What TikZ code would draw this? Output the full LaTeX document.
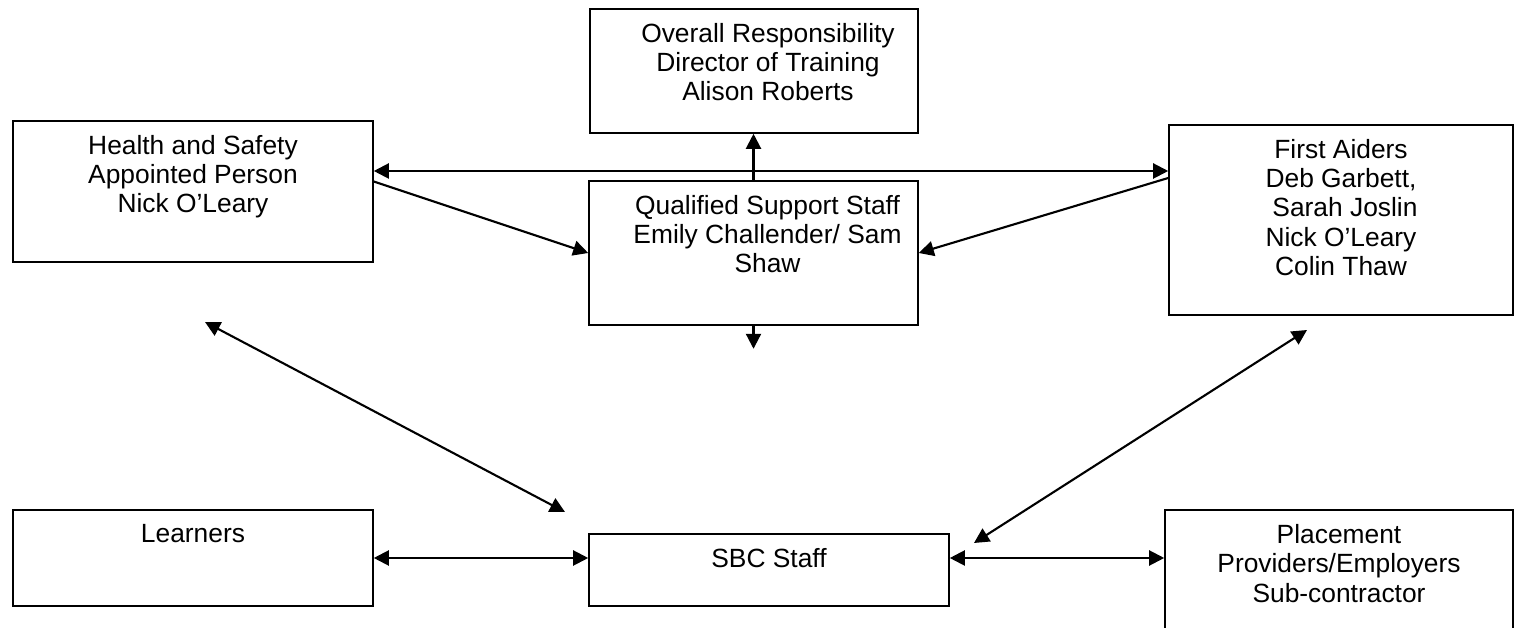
\documentclass[tikz,border=0pt]{standalone}
\usepackage{fontspec}
\setmainfont{Liberation Sans}
\usetikzlibrary{arrows.meta,positioning}

\begin{document}
\begin{tikzpicture}[>={Triangle[length=3mm,width=3mm]},
    box/.style={draw, line width=0.9pt},
    txt/.style={anchor=north, inner sep=0pt, yshift=-3.0mm, align=center, font=\fontsize{15}{16.6}\selectfont},
    link/.style={line width=1.2pt}]
    \useasboundingbox (0,0) rectangle (30.34,12.56);
        \node [box, minimum width=6.56cm, minimum height=2.48cm,
            label={[txt, xshift=2.8mm]north:Overall Responsibility\\Director of Training\\Alison Roberts}] (resp) at (15.08,11.14) {};
        \node [box, minimum width=7.2cm, minimum height=2.82cm,
            label={[txt]north:Health and Safety\\Appointed Person\\Nick O’Leary}] (hs) at (3.86,8.73) {};
        \node [box, minimum width=6.58cm, minimum height=2.88cm,
            label={[txt, xshift=2.8mm]north:Qualified Support Staff\\Emily Challender/ Sam\\Shaw}] (qss) at (15.07,7.5) {};
        \node [box, minimum width=6.88cm, minimum height=3.8cm,
            label={[txt]north:First Aiders\\Deb Garbett,\\\hspace*{0.3em}Sarah Joslin\\Nick O’Leary\\Colin Thaw}] (fa) at (26.82,8.16) {};
        \node [box, minimum width=7.2cm, minimum height=1.92cm,
            label={[txt]north:Learners}] (lrn) at (3.86,1.4) {};
        \node [box, minimum width=7.2cm, minimum height=1.44cm,
            label={[txt]north:SBC Staff}] (sbc) at (15.38,1.16) {};
        \node [box, minimum width=6.96cm, minimum height=2.6cm,
            label={[txt]north:Placement\\Providers/Employers\\Sub-contractor}] (plc) at (26.78,1.06) {};
        % free ends
        \coordinate [below=4.6mm of qss.south] (qdown);
        \coordinate (hsfree) at (4.1,6.12);
        \coordinate (sbcl) at (11.3,2.32);
        \coordinate (fafree) at (26.14,5.96);
        \coordinate (sbcr) at (19.48,1.7);
        \draw [link, <->] ([yshift=4.1mm]hs.east) -- ([yshift=4.1mm]hs.east -| fa.west);
        \draw [link, ->] (qss.north) -- (qss.north |- resp.south);
        \draw [link, ->] ([yshift=2mm]hs.east) -- (qss.west);
        \draw [link, ->] ([yshift=8.4mm]fa.west) -- (qss.east);
        \draw [link, ->] (qss.south) -- (qdown);
        \draw [link, <->] (hsfree) -- (sbcl);
        \draw [link, <->] (fafree) -- (sbcr);
        \draw [link, <->] (lrn.east) -- (lrn.east -| sbc.west);
        \draw [link, <->] ([yshift=2.4mm]sbc.east) -- ([yshift=2.4mm]sbc.east -| plc.west);
    \end{tikzpicture}
\end{document}
